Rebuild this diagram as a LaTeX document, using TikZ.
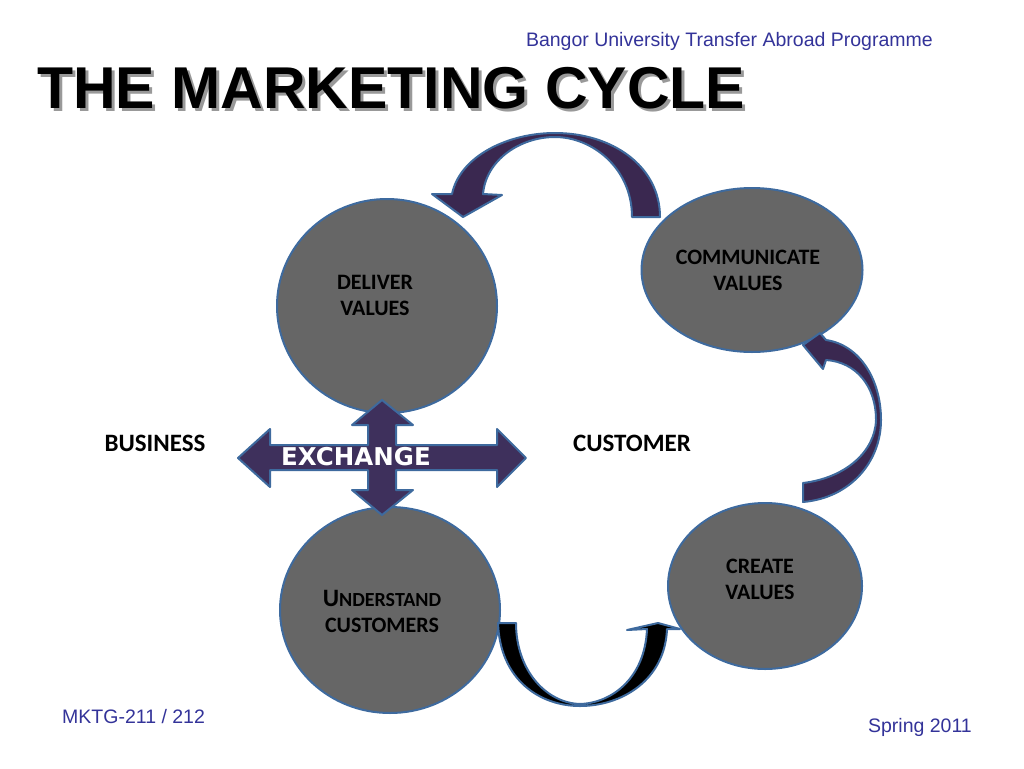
\documentclass[tikz,border=0pt]{standalone}
\usepackage{fontspec}
\setmainfont{Carlito}
\newfontfamily\arialfont{Liberation Sans}
\newfontfamily\verafont{DejaVu Sans}
\usetikzlibrary{shapes.geometric}
\definecolor{cyclegray}{RGB}{102,102,102}
\definecolor{rimblue}{RGB}{62,106,158}
\definecolor{plum}{RGB}{58,40,80}
\definecolor{crossplum}{RGB}{62,48,92}
\definecolor{headblue}{RGB}{51,51,153}
\tikzset{
  stage/.style={ellipse, draw=rimblue, line width=2pt, fill=cyclegray, inner sep=0pt},
  stagetext/.style={font=\bfseries\fontsize{22}{26}\selectfont, align=center, text=black},
  bendarrow/.style={fill=plum, draw=rimblue, line width=2pt, line join=round},
  side/.style={font=\bfseries\fontsize{25}{28}\selectfont},
  note/.style={font=\arialfont\fontsize{19.5}{22}\selectfont, text=headblue, inner sep=0pt},
  headline/.style={font=\arialfont\bfseries\fontsize{59}{60}\selectfont, inner sep=0pt, anchor=base west}
}
\newcommand\shadowed[1]{\rlap{\hspace{3pt}\raisebox{-3pt}{\textcolor{black!40}{#1}}}#1}
\begin{document}
\begin{tikzpicture}[x=1pt,y=-1pt]
\useasboundingbox (0,0) rectangle (1024,768);
\node[note, anchor=base east] (banner) at (933,46) {Bangor University Transfer Abroad Programme};
% title with its shadow
\node[headline] (title) at (37,108) {\shadowed{THE MARKETING CYCLE}};

% the four stages
\node[stage, minimum width=220, minimum height=214] (deliver) at (387,306) {};
\node[stage, minimum width=221, minimum height=164] (communicate) at (752,270) {};
\node[stage, minimum width=220, minimum height=206] (understand) at (390,610) {};
\node[stage, minimum width=194, minimum height=166] (create) at (765,586) {};
\node[stagetext] (delivertxt) at (375,295) {DELIVER\\VALUES};
\node[stagetext] (communicatetxt) at (748,270) {COMMUNICATE\\VALUES};
\node[stagetext] (createtxt) at (760,579) {CREATE\\VALUES};
\node[stagetext] (understandtxt) at (382,611) {{\fontsize{25}{26}\selectfont U}{\fontsize{20}{26}\selectfont NDERSTAND}\\CUSTOMERS};

% curved arrows between the stages
\draw[bendarrow] (632,217) .. controls (632,168) and (592,137) .. (555,137)
  .. controls (520,137) and (486,160) .. (483,194) -- (502,195) -- (463,217) -- (432,194) -- (452,194)
  .. controls (460,156) and (508,133) .. (555,133)
  .. controls (612,133) and (660,166) .. (660,217) -- cycle;
\draw[bendarrow] (803,483) .. controls (845,478) and (875,452) .. (876,420)
  .. controls (876,386) and (856,362) .. (826,360) -- (823,369) -- (803,345) -- (820,333) -- (826,340)
  .. controls (860,345) and (881,380) .. (881,420)
  .. controls (881,462) and (850,498) .. (803,502) -- cycle;
\draw[bendarrow, fill=black] (498,623) .. controls (500,680) and (540,706) .. (580,706)
  .. controls (622,706) and (665,680) .. (667,629) -- (680,629) -- (658,623) -- (627,630) -- (647,629)
  .. controls (645,678) and (612,703) .. (580,704)
  .. controls (546,703) and (516,670) .. (516,623) -- cycle;

% exchange cross
\draw[bendarrow, fill=crossplum] (382,400) -- (413,425) -- (396,425) -- (396,445) -- (497,445)
  -- (497,429) -- (526,458) -- (497,487) -- (497,470) -- (396,470) -- (396,490) -- (413,490)
  -- (382,515) -- (352,490) -- (368,490) -- (368,470) -- (270,470) -- (270,487) -- (238,458)
  -- (270,429) -- (270,445) -- (368,445) -- (368,425) -- (352,425) -- cycle;
\node[font=\verafont\bfseries\fontsize{24.5}{26}\selectfont, text=white] (exchange) at (356,457) {EXCHANGE};

\node[side] (business) at (155,443) {BUSINESS};
\node[side] (customer) at (632,443) {CUSTOMER};
\node[note, anchor=base west] (course) at (62,723) {MKTG-211 / 212};
\node[note, anchor=base east] (term) at (972,732) {Spring 2011};
\end{tikzpicture}
\end{document}
